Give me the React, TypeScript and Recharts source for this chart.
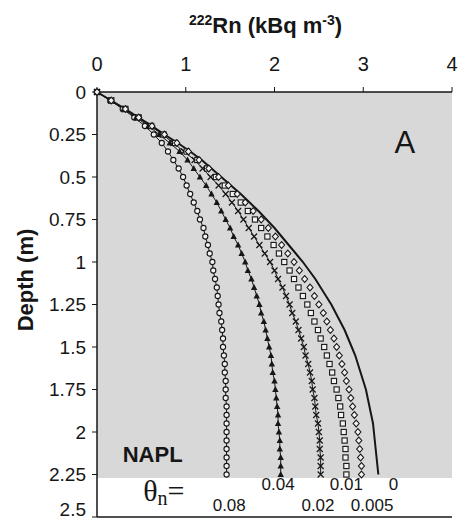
import React from 'react';
import { LineChart, Line, XAxis, YAxis, ReferenceArea, ReferenceLine, ReferenceDot } from 'recharts';

// depth below surface (m) and 222Rn activity (kBq m-3) for each NAPL saturation
const depth = [
  0, 0.05, 0.1, 0.15, 0.2, 0.25, 0.3, 0.35, 0.4, 0.45, 0.5, 0.55, 0.6, 0.65, 0.7, 0.75,
  0.8, 0.85, 0.9, 0.95, 1, 1.05, 1.1, 1.15, 1.2, 1.25, 1.3, 1.35, 1.4, 1.45, 1.5, 1.55,
  1.6, 1.65, 1.7, 1.75, 1.8, 1.85, 1.9, 1.95, 2, 2.05, 2.1, 2.15, 2.2, 2.25,
];
const theta0 = [
  0, 0.16, 0.32, 0.47, 0.62, 0.76, 0.91, 1.05, 1.18, 1.29, 1.4, 1.51, 1.62, 1.72, 1.82, 1.91,
  2.0, 2.08, 2.16, 2.24, 2.32, 2.39, 2.46, 2.52, 2.58, 2.64, 2.69, 2.74, 2.79, 2.83, 2.87, 2.91,
  2.94, 2.97, 3.0, 3.03, 3.05, 3.07, 3.09, 3.11, 3.12, 3.13, 3.14, 3.15, 3.16, 3.17,
];
const theta005 = [
  0, 0.16, 0.32, 0.47, 0.62, 0.76, 0.9, 1.03, 1.15, 1.26, 1.37, 1.48, 1.58, 1.67, 1.76, 1.85,
  1.93, 2.01, 2.08, 2.15, 2.22, 2.28, 2.34, 2.4, 2.45, 2.5, 2.55, 2.59, 2.63, 2.67, 2.7, 2.73,
  2.76, 2.79, 2.81, 2.84, 2.86, 2.88, 2.9, 2.92, 2.94, 2.95, 2.96, 2.97, 2.98, 2.98,
];
const theta01 = [
  0, 0.16, 0.32, 0.47, 0.61, 0.75, 0.88, 1.01, 1.13, 1.24, 1.34, 1.44, 1.53, 1.62, 1.7, 1.78,
  1.85, 1.92, 1.99, 2.05, 2.11, 2.17, 2.22, 2.27, 2.32, 2.37, 2.41, 2.45, 2.49, 2.52, 2.56, 2.59,
  2.62, 2.65, 2.67, 2.7, 2.72, 2.74, 2.75, 2.77, 2.78, 2.79, 2.8, 2.8, 2.81, 2.81,
];
const theta02 = [
  0, 0.16, 0.31, 0.46, 0.6, 0.74, 0.86, 0.98, 1.1, 1.19, 1.28, 1.37, 1.45, 1.52, 1.59, 1.65,
  1.71, 1.77, 1.83, 1.89, 1.95, 2.0, 2.04, 2.09, 2.13, 2.17, 2.2, 2.24, 2.27, 2.3, 2.33, 2.35,
  2.38, 2.4, 2.42, 2.43, 2.45, 2.46, 2.47, 2.49, 2.5, 2.51, 2.51, 2.52, 2.52, 2.52,
];
const theta04 = [
  0, 0.15, 0.3, 0.44, 0.58, 0.7, 0.82, 0.93, 1.02, 1.09, 1.16, 1.23, 1.29, 1.35, 1.4, 1.45,
  1.5, 1.54, 1.59, 1.63, 1.67, 1.7, 1.74, 1.77, 1.8, 1.83, 1.85, 1.88, 1.9, 1.92, 1.94, 1.96,
  1.97, 1.98, 2.0, 2.01, 2.02, 2.03, 2.04, 2.04, 2.05, 2.06, 2.06, 2.07, 2.07, 2.07,
];
const theta08 = [
  0, 0.15, 0.29, 0.42, 0.54, 0.64, 0.73, 0.8, 0.86, 0.92, 0.97, 1.01, 1.05, 1.09, 1.13, 1.16,
  1.2, 1.22, 1.25, 1.27, 1.3, 1.31, 1.33, 1.35, 1.36, 1.37, 1.38, 1.4, 1.41, 1.42, 1.42, 1.43,
  1.44, 1.44, 1.45, 1.45, 1.45, 1.46, 1.46, 1.46, 1.46, 1.46, 1.46, 1.46, 1.46, 1.46,
];

const xTicks = [0, 1, 2, 3, 4];
const yTicks = [0, 0.25, 0.5, 0.75, 1, 1.25, 1.5, 1.75, 2, 2.25, 2.5];

const data = depth.map((d, i) => ({
  depth: d,
  t0: theta0[i],
  t005: theta005[i],
  t01: theta01[i],
  t02: theta02[i],
  t04: theta04[i],
  t08: theta08[i],
}));

const ink = '#161616';
const sans = '"Liberation Sans", Arial, Helvetica, sans-serif';
const serif = '"Liberation Serif", "Times New Roman", serif';

const OpenCircle = (p: any) => (
  <circle key={p.index} cx={p.cx} cy={p.cy} r={2.6} fill="#f3f3f3" stroke={ink} strokeWidth={1.1} />
);
const OpenSquare = (p: any) => (
  <rect key={p.index} x={p.cx - 2.6} y={p.cy - 2.6} width={5.2} height={5.2} fill="#f3f3f3" stroke={ink} strokeWidth={1.1} />
);
const OpenDiamond = (p: any) => (
  <path key={p.index} d={`M${p.cx},${p.cy - 3.4}L${p.cx + 3},${p.cy}L${p.cx},${p.cy + 3.4}L${p.cx - 3},${p.cy}Z`} fill="#f3f3f3" stroke={ink} strokeWidth={1.1} />
);
const Triangle = (p: any) => (
  <path key={p.index} d={`M${p.cx},${p.cy - 3.6}L${p.cx + 3.2},${p.cy + 2.4}L${p.cx - 3.2},${p.cy + 2.4}Z`} fill={ink} />
);
const Cross = (p: any) => (
  <path key={p.index} d={`M${p.cx - 3},${p.cy - 3}L${p.cx + 3},${p.cy + 3}M${p.cx - 3},${p.cy + 3}L${p.cx + 3},${p.cy - 3}`} stroke={ink} strokeWidth={1.2} />
);

const XTitle = ({ viewBox }: any) => (
  <text x={viewBox.x + viewBox.width / 2 - 9} y={33} textAnchor="middle" fontWeight="bold" fontSize={22} fontFamily={sans} fill={ink}>
    <tspan fontSize={14} dy={-8}>222</tspan>
    <tspan dy={8}>Rn (kBq m</tspan>
    <tspan fontSize={14} dy={-8}>-3</tspan>
    <tspan dy={8}>)</tspan>
  </text>
);

const YTitle = ({ viewBox }: any) => (
  <text x={viewBox.x + 25} y={280} transform={`rotate(-90, ${viewBox.x + 25}, 280)`} textAnchor="middle" dominantBaseline="central" fontWeight="bold" fontSize={22} fontFamily={sans} fill={ink}>
    Depth (m)
  </text>
);

const note = (text: string, size: number, weight = 'normal', anchor = 'middle') => (p: any) => (
  <text x={p.cx} y={p.cy} textAnchor={anchor} dominantBaseline="central" fontSize={size} fontWeight={weight} fontFamily={sans} fill={ink}>
    {text}
  </text>
);

const ThetaN = (p: any) => (
  <text x={p.cx} y={p.cy} dominantBaseline="central" fontFamily={serif} fill={ink}>
    <tspan fontSize={30}>θ</tspan>
    <tspan fontSize={20} dy={8}>n</tspan>
    <tspan fontSize={30} dy={-8}>=</tspan>
  </text>
);

const thetaLabels = [
  { text: '0.04', v: 2.04, d: 2.31 },
  { text: '0.01', v: 2.81, d: 2.31 },
  { text: '0', v: 3.34, d: 2.31 },
  { text: '0.08', v: 1.49, d: 2.43 },
  { text: '0.02', v: 2.49, d: 2.43 },
  { text: '0.005', v: 3.1, d: 2.43 },
];

export default function App() {
  return (
    <div style={{ position: 'absolute', left: 0, top: 0, background: '#fff' }}>
      <LineChart width={458} height={520} data={data} layout="vertical" margin={{ top: 0, right: 6, bottom: 3, left: 0 }}>
        <ReferenceArea x1={0} x2={4} y1={0} y2={2.27} fill="#d8d8d8" fillOpacity={1} stroke="none" />
        <XAxis
          type="number"
          orientation="top"
          domain={[0, 4]}
          ticks={xTicks}
          height={92}
          tickSize={5}
          tickMargin={16}
          axisLine={{ stroke: ink, strokeWidth: 1.5 }}
          tickLine={{ stroke: ink }}
          tick={{ fontSize: 20, fill: ink, fontFamily: sans }}
          label={<XTitle />}
        />
        <YAxis
          type="number"
          dataKey="depth"
          domain={[0, 2.5]}
          ticks={yTicks}
          width={97}
          tickSize={5}
          tickMargin={6}
          axisLine={{ stroke: ink, strokeWidth: 1.5 }}
          tickLine={{ stroke: ink }}
          tick={{ fontSize: 19, fill: ink, fontFamily: sans }}
          label={<YTitle />}
        />
        <ReferenceLine y={2.5} stroke={ink} strokeWidth={1.5} />
        <Line dataKey="t08" type="linear" stroke={ink} strokeWidth={1} dot={OpenCircle} isAnimationActive={false} />
        <Line dataKey="t04" type="linear" stroke={ink} strokeWidth={1} dot={Triangle} isAnimationActive={false} />
        <Line dataKey="t02" type="linear" stroke={ink} strokeWidth={1} dot={Cross} isAnimationActive={false} />
        <Line dataKey="t01" type="linear" stroke="none" dot={OpenSquare} isAnimationActive={false} />
        <Line dataKey="t005" type="linear" stroke="none" dot={OpenDiamond} isAnimationActive={false} />
        <Line dataKey="t0" type="linear" stroke={ink} strokeWidth={2} dot={false} isAnimationActive={false} />
        <ReferenceDot x={3.47} y={0.295} r={0} shape={note('A', 31)} />
        <ReferenceDot x={0.29} y={2.135} r={0} shape={note('NAPL', 22, 'bold', 'start')} />
        <ReferenceDot x={0.52} y={2.34} r={0} shape={ThetaN} />
        {thetaLabels.map((t) => (
          <ReferenceDot key={t.text} x={t.v} y={t.d} r={0} shape={note(t.text, 17)} />
        ))}
      </LineChart>
    </div>
  );
}
